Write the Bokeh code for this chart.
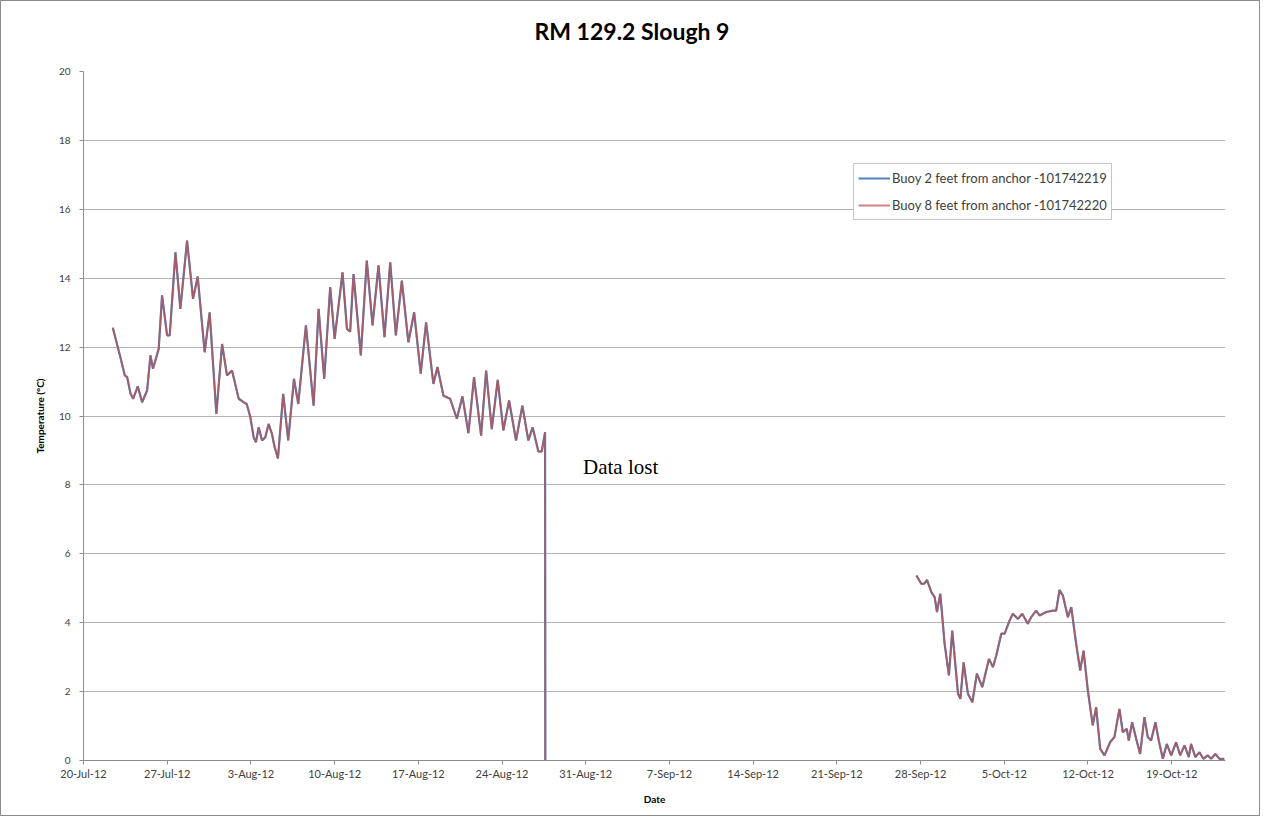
import numpy as np
from bokeh.plotting import figure
from bokeh.models import FixedTicker, Label, Legend, LegendItem, ColumnDataSource, Title
from bokeh.embed import file_html
from bokeh.resources import INLINE

TITLE = "RM 129.2 Slough 9"
SERIES_NAMES = ["Buoy 2 feet from anchor -101742219", "Buoy 8 feet from anchor -101742220"]

# x tick labels (every 7 days starting 20-Jul-12, x is days since 20-Jul-12)
TICK_DAYS = [0, 7, 14, 21, 28, 35, 42, 49, 56, 63, 70, 77, 84, 91]
TICK_LABELS = ["20-Jul-12", "27-Jul-12", "3-Aug-12", "10-Aug-12", "17-Aug-12", "24-Aug-12",
               "31-Aug-12", "7-Sep-12", "14-Sep-12", "21-Sep-12", "28-Sep-12", "5-Oct-12",
               "12-Oct-12", "19-Oct-12"]

# first logging period (days since 20-Jul-12, temperature in degC)
DAYS_1 = [2.45, 3.09, 3.45, 3.65, 3.93, 4.15, 4.54, 4.90, 5.32, 5.60, 5.81, 6.29, 6.57, 6.99,
          7.21, 7.69, 8.10, 8.66, 9.16, 9.55, 10.13, 10.55, 11.11, 11.59, 12.00, 12.42, 12.98,
          13.39, 13.65, 13.95, 14.23, 14.42, 14.65, 14.93, 15.20, 15.48, 15.76, 15.98, 16.26,
          16.70, 17.12, 17.60, 17.96, 18.60, 19.24, 19.66, 20.13, 20.63, 21.00, 21.66, 22.03,
          22.30, 22.58, 23.19, 23.69, 24.17, 24.67, 25.17, 25.65, 26.12, 26.62, 27.17, 27.65,
          28.20, 28.65, 29.26, 29.60, 30.10, 30.66, 31.22, 31.69, 32.19, 32.66, 33.25, 33.67,
          34.14, 34.64, 35.11, 35.59, 36.17, 36.70, 37.20, 37.56, 38.04, 38.32, 38.60, 38.62]
TEMP_1 = [12.56, 11.70, 11.18, 11.13, 10.65, 10.50, 10.86, 10.40, 10.74, 11.76, 11.37, 11.95,
          13.50, 12.34, 12.34, 14.75, 13.11, 15.09, 13.40, 14.05, 11.85, 13.01, 10.06, 12.09,
          11.18, 11.32, 10.50, 10.40, 10.35, 9.97, 9.38, 9.24, 9.67, 9.29, 9.38, 9.77, 9.48,
          9.10, 8.77, 10.64, 9.29, 11.08, 10.35, 12.63, 10.30, 13.11, 11.08, 13.74, 12.24,
          14.17, 12.53, 12.45, 14.12, 11.76, 14.51, 12.63, 14.37, 12.29, 14.46, 12.34, 13.93,
          12.14, 13.01, 11.23, 12.72, 10.93, 11.42, 10.59, 10.50, 9.92, 10.57, 9.50, 11.13,
          9.43, 11.32, 9.62, 11.05, 9.58, 10.45, 9.29, 10.30, 9.29, 9.67, 8.97, 8.97, 9.53, 0.00]

# second logging period
DAYS_2 = [69.65, 70.06, 70.30, 70.54, 70.90, 71.18, 71.37, 71.65, 72.01, 72.37, 72.65, 73.13,
          73.33, 73.60, 73.96, 74.33, 74.71, 75.16, 75.72, 76.05, 76.33, 76.75, 77.03, 77.44,
          77.72, 78.14, 78.50, 78.97, 79.25, 79.67, 79.95, 80.51, 81.06, 81.34, 81.62, 81.90,
          82.32, 82.60, 83.01, 83.35, 83.63, 83.99, 84.40, 84.68, 85.02, 85.38, 85.85, 86.21,
          86.63, 86.91, 87.24, 87.41, 87.69, 88.03, 88.36, 88.72, 89.00, 89.28, 89.64, 89.92,
          90.26, 90.59, 90.96, 91.37, 91.71, 92.07, 92.43, 92.62, 92.98, 93.32, 93.65, 94.01,
          94.30, 94.65, 94.99, 95.40]
TEMP_2 = [5.37, 5.13, 5.13, 5.24, 4.89, 4.74, 4.31, 4.84, 3.39, 2.47, 3.77, 1.94, 1.79, 2.85,
          1.94, 1.69, 2.52, 2.13, 2.95, 2.71, 3.05, 3.68, 3.68, 4.06, 4.26, 4.11, 4.26, 3.97,
          4.16, 4.35, 4.21, 4.31, 4.35, 4.35, 4.95, 4.79, 4.16, 4.45, 3.39, 2.61, 3.19, 2.03,
          1.02, 1.55, 0.34, 0.15, 0.53, 0.68, 1.50, 0.82, 0.92, 0.58, 1.11, 0.63, 0.19, 1.26,
          0.68, 0.58, 1.11, 0.58, 0.05, 0.48, 0.15, 0.53, 0.15, 0.44, 0.10, 0.48, 0.10, 0.24,
          0.05, 0.15, 0.05, 0.19, 0.05, 0.05]

Y_TICKS = [0, 2, 4, 6, 8, 10, 12, 14, 16, 18, 20]

x = DAYS_1 + [np.nan] + DAYS_2
y = TEMP_1 + [np.nan] + TEMP_2
src = ColumnDataSource(dict(x=x, y=y))

FONT = "Lato"

p = figure(width=1260, height=816, output_backend="svg", toolbar_location=None,
           x_range=(0, 95.5), y_range=(0, 20),
           min_border_left=82, min_border_right=36, min_border_top=70, min_border_bottom=57)
p.title = None

# spacer panel between frame and title, then the title itself (stacked outward)
p.add_layout(Title(text=" ", text_font=FONT, text_font_size="20px", standoff=0), "above")
p.add_layout(Title(text=TITLE, align="left", offset=451, vertical_align="middle", standoff=0,
                   text_font=FONT, text_font_size="23px", text_font_style="bold",
                   text_color="#000000"), "above")

p.outline_line_color = None
p.background_fill_color = "white"
p.border_fill_color = "white"
p.styles = {"border": "1px solid #8c8c8c"}

p.xgrid.grid_line_color = None
p.ygrid.grid_line_color = "#b3b3b3"
p.ygrid.grid_line_width = 1

p.xaxis.ticker = FixedTicker(ticks=TICK_DAYS)
p.xaxis.major_label_overrides = {d: lab for d, lab in zip(TICK_DAYS, TICK_LABELS)}
p.yaxis.ticker = FixedTicker(ticks=Y_TICKS)
for ax in (p.xaxis, p.yaxis):
    ax.axis_line_color = "#8c8c8c"
    ax.major_tick_line_color = "#8c8c8c"
    ax.major_tick_out = 4
    ax.major_tick_in = 0
    ax.minor_tick_line_color = None
    ax.major_label_text_font = FONT
    ax.major_label_text_color = "#404040"
    ax.axis_label_text_font = FONT
    ax.axis_label_text_font_style = "bold"
    ax.axis_label_text_font_size = "10px"
    ax.axis_label_text_color = "#000000"
p.xaxis.major_label_text_font_size = "11px"
p.yaxis.major_label_text_font_size = "10px"
p.xaxis.axis_label = "Date"
p.yaxis.axis_label = "Temperature (°C)"
p.xaxis.major_label_standoff = 2
p.xaxis.axis_label_standoff = 10
p.yaxis.major_label_standoff = 9
p.yaxis.axis_label_standoff = 10

r1 = p.line("x", "y", source=src, line_color="#4F81BD", line_width=2.2)
r2 = p.line("x", "y", source=src, line_color="#C0504D", line_width=1.8, line_alpha=0.72)

legend = Legend(items=[LegendItem(label=SERIES_NAMES[0], renderers=[r1]),
                       LegendItem(label=SERIES_NAMES[1], renderers=[r2])],
                location=(770, 540))
legend.label_text_font = FONT
legend.label_text_font_size = "13px"
legend.label_text_color = "#404040"
legend.border_line_color = "#8c8c8c"
legend.glyph_width = 32
legend.glyph_height = 20
legend.spacing = 7
legend.padding = 4
legend.margin = 0
legend.label_standoff = 2
p.add_layout(legend, "center")

note = Label(x=41.77, y=8.53, text="Data lost", text_font="Liberation Serif",
             text_font_size="21px", text_baseline="alphabetic", text_align="left",
             text_color="#000000")
p.add_layout(note)

open("out.html", "w").write(file_html(p, INLINE))
